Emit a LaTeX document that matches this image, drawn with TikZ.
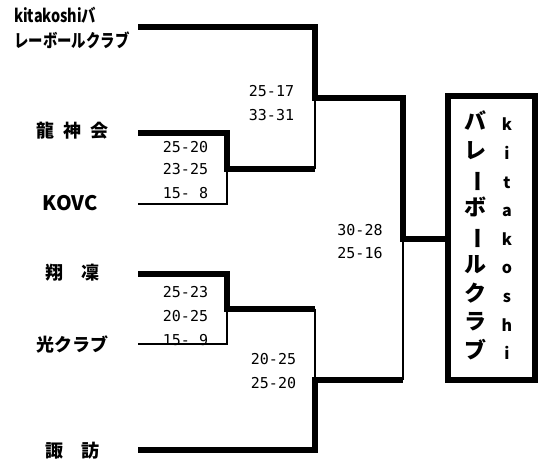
\documentclass[tikz,border=0pt]{standalone}
\usepackage{fontspec}
\setmainfont{Noto Sans CJK JP}
\newfontfamily\scorefont{DejaVu Sans Mono}
\usepackage{graphicx}
\usetikzlibrary{positioning}

\begin{document}
\begin{tikzpicture}[x=1pt, y=-1pt, line join=miter, win/.style={line width=6pt}, lose/.style={line width=2pt}]
\useasboundingbox (0,0) rectangle (546,464);
% scores
  \begin{scope}[every node/.style={font=\scorefont\fontsize{15}{17}\selectfont, inner sep=0pt}]
\node (sa) at (185.5,147) {25-20};
\node (sb) at (185.5,169.5) {23-25};
\node (sc) at (185.5,193) {15- 8};
\node (sd) at (185.5,292) {25-23};
\node (se) at (185.5,316.5) {20-25};
\node (sf) at (185.5,340) {15- 9};
\node (sg) at (271.5,91) {25-17};
\node (sh) at (271.5,115) {33-31};
\node (si) at (273.5,359) {20-25};
\node (sj) at (273.5,383) {25-20};
\node (sk) at (360,230) {30-28};
\node (sl) at (360,253) {25-16};
  \end{scope}
% teams
  \begin{scope}[every node/.style={font=\fontsize{18}{25}\selectfont\bfseries, inner sep=0pt}]
\node[anchor=west, align=left] (kita) at (14,28) {\scalebox{0.8}[1]{kitakoshiバ}\\\scalebox{0.8}[1]{レーボールクラブ}};
\node (ryu) at (72,131) {龍\hspace{0.5em}神\hspace{0.5em}会};
\node[font=\fontsize{20}{25}\selectfont\bfseries] (kovc) at (70,203) {KOVC};
\node (sho) at (72.5,273) {翔\hspace{1em}凜};
\node (hika) at (72.5,344) {光クラブ};
\node (suwa) at (72.5,451) {諏\hspace{1em}訪};
  \end{scope}
% champion
\node[draw, line width=6pt, minimum width=87.5pt, minimum height=283.5pt, inner sep=0pt] (champ) at (491.25,237.75) {};
\node[align=center, inner sep=0pt, font=\fontsize{22}{28.6}\selectfont\bfseries] (champjp) at (475,235.5)
  {バ\\レ\\\rotatebox[origin=c]{-90}{ー}\\ボ\\\rotatebox[origin=c]{-90}{ー}\\ル\\ク\\ラ\\ブ};
\node[align=center, inner sep=0pt, font=\fontsize{16}{28.6}\selectfont\bfseries] (champen) at (507,239)
  {k\\i\\t\\a\\k\\o\\s\\h\\i};
% bracket points
\coordinate(k0) at (138,27);
\coordinate(k1) at (314.5,27);
\coordinate(s1) at (314.5,98);
\coordinate(s2) at (314.5,168.5);
\coordinate(r0) at (138,132.5);
\coordinate(r1) at (226.5,132.5);
\coordinate(r2) at (226.5,168.5);
\coordinate(v0) at (138,203.5);
\coordinate(v1) at (226.5,203.5);
\coordinate(h0) at (138,273.5);
\coordinate(h1) at (226.5,273.5);
\coordinate(h2) at (226.5,308.5);
\coordinate(p0) at (138,343.5);
\coordinate(p1) at (226.5,343.5);
\coordinate(q1) at (314.5,308.5);
\coordinate(q2) at (314.5,379.5);
\coordinate(w0) at (138,449.5);
\coordinate(w1) at (314.5,449.5);
\coordinate(f0) at (402.5,98);
\coordinate(f1) at (402.5,238.5);
\coordinate(f2) at (402.5,379.5);
\draw[win]  (k0) -- (k1) -- (s1) -- (f0) -- (f1) -- (champ.west |- f1);
\draw[lose] (s1) -- (s2);
\draw[win]  (r0) -- (r1) -- (r2) -- (s2);
\draw[lose] (r2) -- (v1) -- (v0);
\draw[win]  (h0) -- (h1) -- (h2) -- (q1);
\draw[lose] (h2) -- (p1) -- (p0);
\draw[lose] (q1) -- (q2);
\draw[win]  (w0) -- (w1) -- (q2) -- (f2);
\draw[lose] (f1) -- (f2);
\end{tikzpicture}
\end{document}
